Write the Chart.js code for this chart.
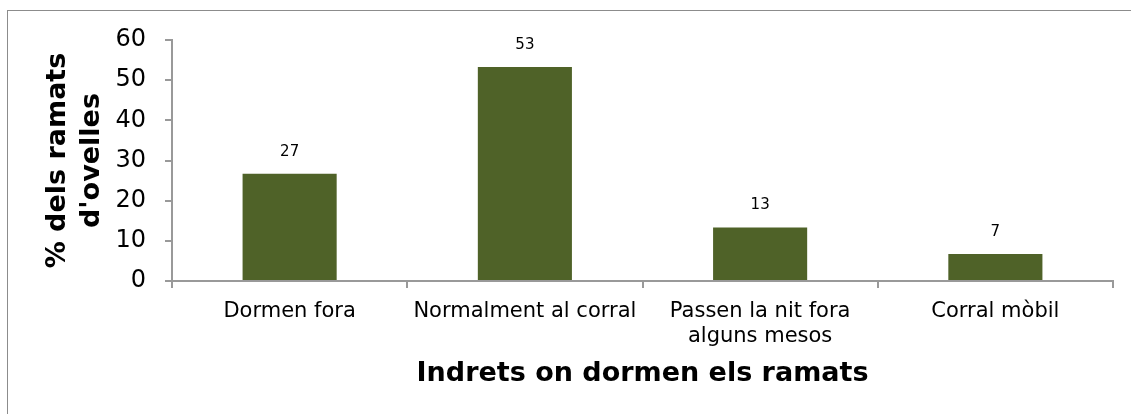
<!DOCTYPE html>
<html><head><meta charset="utf-8">
<script src="https://cdn.jsdelivr.net/npm/chart.js@4"></script>
<style>html,body{margin:0;padding:0;background:#fff;overflow:hidden}</style>
</head><body>
<canvas id="c" width="1131" height="414" style="display:block;width:1131px;height:414px"></canvas>
<script>
const categories = ['Dormen fora', 'Normalment al corral', ['Passen la nit fora', 'alguns mesos'], 'Corral mòbil'];
const values = [26.7, 53.3, 13.3, 6.7];
const valueLabels = ['27', '53', '13', '7'];
const yMin = 0, yMax = 60, yStep = 10;
const yTitle = ['% dels ramats', "d'ovelles"];
const xTitle = 'Indrets on dormen els ramats';

Chart.defaults.font.family = "'DejaVu Sans', Verdana, sans-serif";
Chart.defaults.color = '#000';

const framePlugin = {
  id: 'frame',
  beforeDraw(chart) {
    const ctx = chart.ctx;
    ctx.save();
    ctx.fillStyle = '#fff';
    ctx.fillRect(0, 0, chart.width, chart.height);
    ctx.strokeStyle = '#8c8c8c';
    ctx.lineWidth = 1;
    ctx.strokeRect(7.5, 10.5, 3000, 3000);
    ctx.restore();
  }
};
const labelPlugin = {
  id: 'vlabels',
  afterDatasetsDraw(chart) {
    const ctx = chart.ctx;
    const meta = chart.getDatasetMeta(0);
    ctx.save();
    ctx.font = "15px 'DejaVu Sans'";
    ctx.fillStyle = '#000';
    ctx.textAlign = 'center';
    ctx.textBaseline = 'middle';
    meta.data.forEach((bar, i) => {
      ctx.fillText(valueLabels[i], bar.x, bar.y - 22);
    });
    ctx.restore();
  }
};

new Chart(document.getElementById('c'), {
  type: 'bar',
  data: {
    labels: categories,
    datasets: [{
      data: values,
      backgroundColor: '#4F6228',
      borderWidth: 0,
      categoryPercentage: 1,
      barPercentage: 0.4
    }]
  },
  options: {
    responsive: false,
    devicePixelRatio: 1,
    animation: false,
    layout: { padding: { top: 40, right: 18, bottom: 0, left: 0 } },
    plugins: { legend: { display: false }, tooltip: { enabled: false } },
    scales: {
      x: {
        afterFit(s) { s.height = 133; },
        grid: { display: true, drawOnChartArea: false, drawTicks: true, tickLength: 7, color: '#999', lineWidth: 2, offset: true },
        border: { display: true, color: '#999', width: 2 },
        ticks: { font: { size: 21 }, color: '#000', padding: 11, maxRotation: 0, autoSkip: false },
        title: { display: true, text: xTitle, font: { size: 27, weight: 'bold' }, color: '#000', padding: { top: 0, bottom: 24 } }
      },
      y: {
        min: yMin, max: yMax,
        afterFit(s) { s.width = 172; },
        grid: { display: true, drawOnChartArea: false, drawTicks: true, tickLength: 7, color: '#999', lineWidth: 2 },
        border: { display: true, color: '#999', width: 2 },
        ticks: { stepSize: yStep, font: { size: 24 }, color: '#000', padding: 19 },
        title: { display: true, text: yTitle, font: { size: 27, weight: 'bold', lineHeight: 1.25 }, color: '#000', padding: { top: 41, bottom: 0 } }
      }
    }
  },
  plugins: [framePlugin, labelPlugin]
});
</script>
</body></html>
